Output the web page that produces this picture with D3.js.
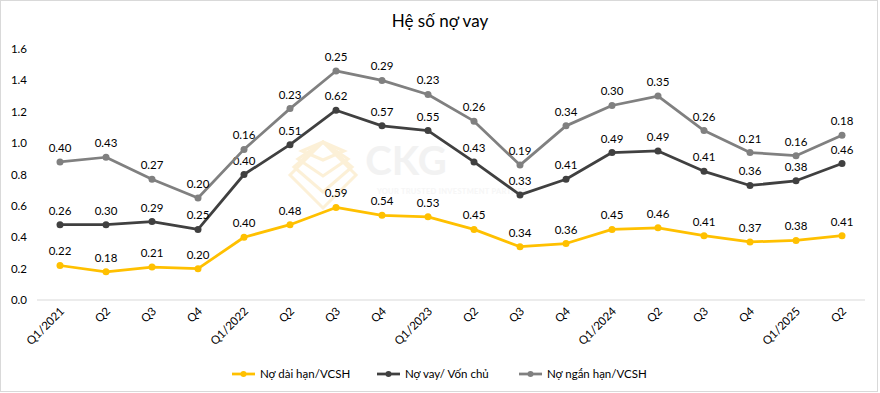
<!DOCTYPE html>
<html>
<head>
<meta charset="utf-8">
<script src="https://cdn.jsdelivr.net/npm/d3@7"></script>
<style>
  body { margin: 0; background: #fff; }
  svg { font-family: Lato, "Open Sans", sans-serif; }
</style>
</head>
<body>
<svg id="chart" width="880" height="393"></svg>
<script>
const categories = ['Q1/2021', 'Q2', 'Q3', 'Q4', 'Q1/2022', 'Q2', 'Q3', 'Q4', 'Q1/2023', 'Q2', 'Q3', 'Q4',
    'Q1/2024', 'Q2', 'Q3', 'Q4', 'Q1/2025', 'Q2'];
const seriesNames = ['Nợ dài hạn/VCSH', 'Nợ vay/ Vốn chủ', 'Nợ ngắn hạn/VCSH'];
// stacked line values (each line sits on top of the previous one)
const noDaiHan = [0.22, 0.18, 0.21, 0.20, 0.40, 0.48, 0.59, 0.54, 0.53, 0.45, 0.34, 0.36, 0.45, 0.46, 0.41, 0.37, 0.38, 0.41];
const noVay = [0.26, 0.30, 0.29, 0.25, 0.40, 0.51, 0.62, 0.57, 0.55, 0.43, 0.33, 0.41, 0.49, 0.49, 0.41, 0.36, 0.38, 0.46];
const noNganHan = [0.40, 0.43, 0.27, 0.20, 0.16, 0.23, 0.25, 0.29, 0.23, 0.26, 0.19, 0.34, 0.30, 0.35, 0.26, 0.21, 0.16, 0.18];
const yTicks = [0, 0.2, 0.4, 0.6, 0.8, 1.0, 1.2, 1.4, 1.6];
const colors = ['#FFC000', '#404040', '#808080'];

const svg = d3.select('#chart');
const W = 880, H = 393;
const plot = { left: 37, right: 865, top: 49, bottom: 300 };

// chart border
svg.append('rect')
    .attr('x', 0.5).attr('y', 0.5)
    .attr('width', 877).attr('height', 391)
    .attr('fill', '#fff')
    .attr('stroke', '#d9d9d9');

svg.append('text')
    .attr('x', W / 2).attr('y', 27)
    .attr('text-anchor', 'middle')
    .attr('font-size', 17)
    .attr('fill', '#000')
    .text('Hệ số nợ vay');

// watermark
const wm = svg.append('g').attr('opacity', 0.5);
wm.append('text')
    .attr('x', 406).attr('y', 175)
    .attr('text-anchor', 'middle')
    .attr('font-size', 40).attr('font-weight', 'bold')
    .attr('fill', '#e6e6e6')
    .text('CKG');
wm.append('text')
    .attr('x', 452).attr('y', 194)
    .attr('text-anchor', 'middle')
    .attr('font-size', 7.5).attr('font-weight', 'bold')
    .attr('letter-spacing', 0.3)
    .attr('fill', '#eeeeee')
    .text('YOUR TRUSTED INVESTMENT PARTNER');
[0, 8, 16, 24].forEach(d => {
    wm.append('path')
        .attr('d', `M${290 + d / 2},${175 - d} l${33 - d / 2},-${33 - d} l${33 - d / 2},${33 - d} l-${33 - d / 2},${33 - d}z`)
        .attr('fill', 'none')
        .attr('stroke', '#fbe3b0')
        .attr('stroke-width', 3);
});

const x = d3.scaleBand()
    .domain(d3.range(categories.length))
    .range([plot.left, plot.right]);

const y = d3.scaleLinear()
    .domain([0, 1.6])
    .range([plot.bottom, plot.top]);

// y axis labels
svg.append('g')
    .selectAll('text')
    .data(yTicks)
    .join('text')
    .attr('x', 27)
    .attr('y', d => y(d) + 4)
    .attr('text-anchor', 'end')
    .attr('font-size', 11.5)
    .attr('fill', '#000')
    .text(d => d3.format('.1f')(d));

// baseline
svg.append('line')
    .attr('x1', plot.left).attr('x2', plot.right)
    .attr('y1', y(0)).attr('y2', y(0))
    .attr('stroke', '#d9d9d9')
    .attr('stroke-width', 1);

// x labels
svg.append('g')
    .selectAll('text')
    .data(categories)
    .join('text')
    .attr('transform', (d, i) => `translate(${x(i) + x.bandwidth() / 2 + 5},${y(0) + 12}) rotate(-45)`)
    .attr('text-anchor', 'end')
    .attr('font-size', 11.5)
    .attr('fill', '#000')
    .text(d => d);

const table = categories.map((c, i) => ({ i: i, a: noDaiHan[i], b: noVay[i], c: noNganHan[i] }));
const stacked = d3.stack().keys(['a', 'b', 'c'])(table);

const line = d3.line()
    .x(d => x(d.data.i) + x.bandwidth() / 2)
    .y(d => y(d[1]));

stacked.forEach((s, k) => {
    const g = svg.append('g');
    g.append('path')
        .datum(s)
        .attr('fill', 'none')
        .attr('stroke', colors[k])
        .attr('stroke-width', 2.75)
        .attr('stroke-linejoin', 'round')
        .attr('d', line);
    g.selectAll('circle')
        .data(s)
        .join('circle')
        .attr('cx', d => x(d.data.i) + x.bandwidth() / 2)
        .attr('cy', d => y(d[1]))
        .attr('r', 3.5)
        .attr('fill', colors[k]);
    g.selectAll('text')
        .data(s)
        .join('text')
        .attr('x', d => x(d.data.i) + x.bandwidth() / 2)
        .attr('y', d => y(d[1]) - 10)
        .attr('text-anchor', 'middle')
        .attr('font-size', 11.5)
        .attr('fill', '#000')
        .text(d => d3.format('.2f')(d[1] - d[0]));
});

// legend
const legendX = [232, 377, 519];
seriesNames.forEach((name, k) => {
    const lg = svg.append('g').attr('transform', `translate(${legendX[k]},374)`);
    lg.append('line')
        .attr('x1', 0).attr('x2', 23)
        .attr('stroke', colors[k]).attr('stroke-width', 2.75);
    lg.append('circle')
        .attr('cx', 11.5).attr('r', 3).attr('fill', colors[k]);
    lg.append('text')
        .attr('x', 28).attr('y', 4)
        .attr('font-size', 11.5)
        .attr('fill', '#000')
        .text(name);
});
</script>
</body>
</html>
